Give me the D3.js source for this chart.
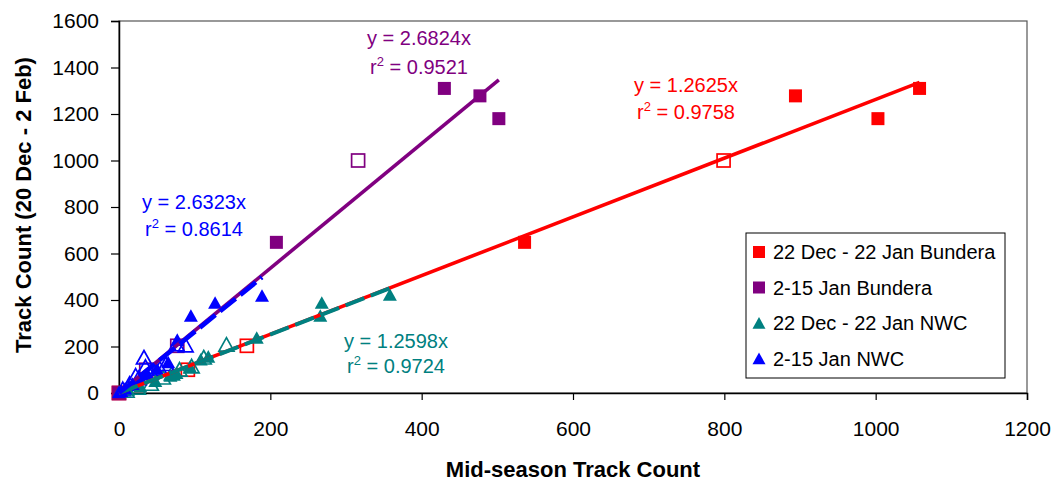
<!DOCTYPE html>
<html><head><meta charset="utf-8">
<script src="https://cdn.jsdelivr.net/npm/d3@7"></script>
<style>
body{margin:0;background:#fff}
text{font-family:"Liberation Sans",Arial,sans-serif}
</style>
</head><body>
<svg id="c" width="1056" height="481"></svg>
<script>
// ---- data ----
const xTicks = [0,200,400,600,800,1000,1200];
const yTicks = [0,200,400,600,800,1000,1200,1400,1600];
const seriesNames = ["22 Dec - 22 Jan Bundera","2-15 Jan Bundera","22 Dec - 22 Jan NWC","2-15 Jan NWC"];
const seriesColors = ["#FF0000","#800080","#008080","#0000FF"];
const seriesShapes = ["square","square","triangle","triangle"];
// Bundera, filled markers
const bunderaFilledY = [1310,1278,1180,648,0];
const redFilledX     = [1058,894,1003,536,0];
const purpleFilledX  = [430,477,502,208,0];
// Bundera, open markers
const bunderaOpenY = [1000,203,100,0];
const redOpenX     = [799,169,91,0];
const purpleOpenX  = [316,77,36,0];
// NWC, filled markers [x,y]
const blueFilled = [[189,414],[127,384],[95,328],[77,224],[65,128],[50,100],[38,75],[28,55],[18,35],[8,15],[3,5],[0,0]];
const tealFilled = [[358,418],[268,384],[266,328],[182,233],[118,152],[108,140],[94,108],[76,82],[68,70],[48,48],[28,25],[12,10],[0,0]];
// NWC, open markers
const blueOpen = [[88,200],[33,148],[35,108],[54,100],[76,205],[62,120],[22,70],[14,35],[5,12],[42,85],[26,60]];
const tealOpen = [[142,203],[112,148],[96,110],[80,96],[70,80],[58,62],[42,35],[25,18],[10,5]];
// trendlines (through origin)
const slopes = [1.2625,2.6824,1.2598,2.6323];
const r2 = ["0.9758","0.9521","0.9724","0.8614"];
const trendMaxX = [1058,502,358,189];

// ---- chart ----
const svg = d3.select("#c");
const x = d3.scaleLinear().domain([0,1200]).range([119,1027]);
const y = d3.scaleLinear().domain([0,1600]).range([393,21]);

// plot border
svg.append("rect").attr("x",119).attr("y",21).attr("width",908).attr("height",372)
  .attr("fill","none").attr("stroke","#555").attr("stroke-width",1.2);

// axes
const ya = svg.append("g").attr("transform","translate(119,0)")
  .call(d3.axisLeft(y).tickValues(yTicks).tickSize(8).tickPadding(12).tickFormat(d3.format("d")));
const xa = svg.append("g").attr("transform","translate(0,393)")
  .call(d3.axisBottom(x).tickValues(xTicks).tickSize(7).tickPadding(21).tickFormat(d3.format("d")));
[ya,xa].forEach(a=>{
  a.select(".domain").attr("stroke","#000").attr("stroke-width",1.5);
  a.selectAll(".tick line").attr("stroke","#000").attr("stroke-width",1.2);
  a.selectAll("text").attr("font-size",21).attr("fill","#000")
   .attr("font-family",'"Liberation Sans",Arial,sans-serif');
});

// titles
svg.append("text").attr("x",573).attr("y",477).attr("text-anchor","middle")
  .attr("font-size",22).attr("font-weight","bold").text("Mid-season Track Count");
svg.append("text").attr("transform","translate(31,205) rotate(-90)").attr("text-anchor","middle")
  .attr("font-size",22).attr("font-weight","bold").text("Track Count (20 Dec - 2 Feb)");

// marker helpers
const sq = 13, tri = 14;
function drawSquares(pts,color,filled){
  svg.append("g").selectAll("rect").data(pts).join("rect")
    .attr("x",d=>x(d[0])-sq/2).attr("y",d=>y(d[1])-sq/2)
    .attr("width",sq).attr("height",sq)
    .attr("fill",filled?color:"none").attr("stroke",color).attr("stroke-width",filled?0:1.7);
}
function triPath(cx,cy,s){
  const h = s*0.9;
  return `M${cx},${cy-h*0.6}L${cx+s/2},${cy+h*0.4}L${cx-s/2},${cy+h*0.4}Z`;
}
function drawTris(pts,color,filled,size){
  svg.append("g").selectAll("path").data(pts).join("path")
    .attr("d",d=>triPath(x(d[0]),y(d[1]),size))
    .attr("fill",filled?color:"none").attr("stroke",color).attr("stroke-width",filled?0:1.7);
}
const zip=(xs,ys)=>xs.map((v,i)=>[v,ys[i]]);

drawSquares(zip(redOpenX,bunderaOpenY),seriesColors[0],false);
drawSquares(zip(purpleOpenX,bunderaOpenY),seriesColors[1],false);
drawTris(tealOpen,seriesColors[2],false,15);
drawTris(blueOpen,seriesColors[3],false,15);
drawSquares(zip(redFilledX,bunderaFilledY),seriesColors[0],true);
drawSquares(zip(purpleFilledX,bunderaFilledY),seriesColors[1],true);
drawTris(tealFilled,seriesColors[2],true,tri);
drawTris(blueFilled,seriesColors[3],true,tri);

// trendlines
const dashes = [null,null,"20,7","20,6"];
const widths = [3.6,3.6,4,4.6];
slopes.forEach((m,i)=>{
  svg.append("line").attr("x1",x(0)).attr("y1",y(0))
    .attr("x2",x(trendMaxX[i])).attr("y2",y(m*trendMaxX[i]))
    .attr("stroke",seriesColors[i]).attr("stroke-width",widths[i])
    .attr("stroke-dasharray",dashes[i]);
});

// equation labels
const labelPos = [[686,92,119],[419,45,74],[396,348,373],[194,209,236]];
slopes.forEach((m,i)=>{
  const [cx,y1,y2]=labelPos[i];
  svg.append("text").attr("x",cx).attr("y",y1).attr("text-anchor","middle")
    .attr("font-size",20).attr("fill",seriesColors[i]).text(`y = ${m.toFixed(4)}x`);
  const t = svg.append("text").attr("x",cx).attr("y",y2).attr("text-anchor","middle")
    .attr("font-size",20).attr("fill",seriesColors[i]);
  t.append("tspan").text("r");
  t.append("tspan").attr("font-size",13).attr("dy",-8).text("2");
  t.append("tspan").attr("dy",8).text(` = ${r2[i]}`);
});

// legend
const lg = svg.append("g");
lg.append("rect").attr("x",746).attr("y",233).attr("width",259).attr("height",145)
  .attr("fill","#fff").attr("stroke","#000").attr("stroke-width",1);
seriesNames.forEach((n,i)=>{
  const cy = 252 + i*35.5;
  if(seriesShapes[i]==="square"){
    lg.append("rect").attr("x",759-6).attr("y",cy-6).attr("width",12).attr("height",12).attr("fill",seriesColors[i]);
  } else {
    lg.append("path").attr("d",triPath(759,cy+1,13)).attr("fill",seriesColors[i]);
  }
  lg.append("text").attr("x",773).attr("y",cy+7).attr("font-size",20).attr("fill","#000").text(n);
});
</script>
</body></html>
